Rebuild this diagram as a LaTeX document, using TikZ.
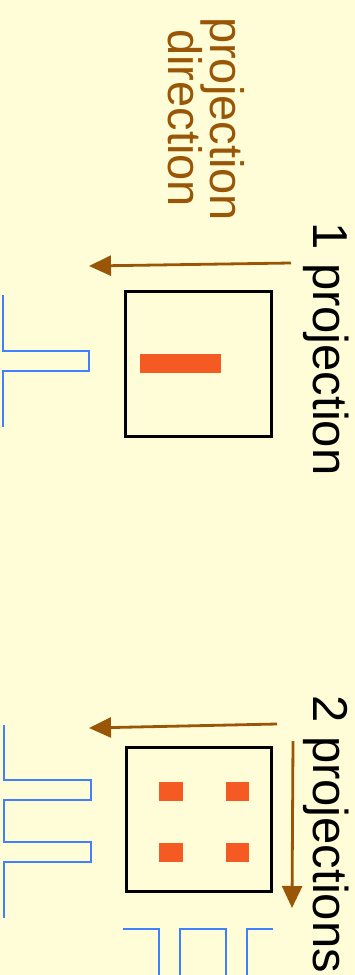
\documentclass[tikz,border=0pt]{standalone}
\usepackage{fontspec}
\setmainfont{Liberation Sans}
\usetikzlibrary{arrows.meta}
\definecolor{bg}{RGB}{254,253,216}
\definecolor{brn}{RGB}{153,86,6}
\definecolor{spot}{RGB}{245,90,34}
\definecolor{prof}{RGB}{64,128,255}
\tikzset{
  sample/.style={draw=black, line width=3.2pt, fill=none, inner sep=0pt},
  projarrow/.style={draw=brn, line width=2.8pt, -{Triangle[length=22pt,width=20pt]}},
  profile/.style={draw=prof, line width=2.5pt},
  label/.style={rotate=-90, inner sep=0pt, font=\fontsize{49}{49}\selectfont},
  dirlabel/.style={rotate=-90, inner sep=0pt, text=brn, font=\fontsize{47}{47}\selectfont},
}
\begin{document}
\begin{tikzpicture}[x=1pt,y=-1pt]
\fill[bg] (0,0) rectangle (355,975);
\useasboundingbox (0,0) rectangle (355,975);

% labels
\node[dirlabel, anchor=base] (pd1) at (210,119) {projection};
\node[dirlabel, anchor=base] (pd2) at (168,118) {direction};
\node[label, anchor=base west] (one) at (313,222) {1 projection};
\node[label, anchor=base west] (two) at (313,695) {2 projections};

% single projection
\node[sample, minimum width=146pt, minimum height=145pt] (box1) at (198.5,364) {};
\fill[spot] (140,354) rectangle (221,373);
\coordinate (a1s) at (291,263);
\coordinate (a1e) at (89,266);
\draw[projarrow] (a1s) -- (a1e);
\draw[profile] (3,295) -- (3,351) -- (89,351) -- (89,371) -- (3,371) -- (3,427);

% two projections
\node[sample, minimum width=145pt, minimum height=144pt] (box2) at (199,819.5) {};
\fill[spot] (159,782) rectangle (183,801);
\fill[spot] (226,782) rectangle (249,801);
\fill[spot] (159,843) rectangle (183,862);
\fill[spot] (226,843) rectangle (249,862);
\coordinate (a2s) at (277,724);
\coordinate (a2e) at (89,728);
\coordinate (a3s) at (293,741);
\coordinate (a3e) at (292,908);
\draw[projarrow] (a2s) -- (a2e);
\draw[projarrow] (a3s) -- (a3e);
\draw[profile] (4,725) -- (4,780) -- (91,780) -- (91,800) -- (4,800) -- (4,842)
  -- (91,842) -- (91,862) -- (4,862) -- (4,918);
\draw[profile] (123,929) -- (159,929) -- (159,976);
\draw[profile] (180,976) -- (180,929) -- (226,929) -- (226,976);
\draw[profile] (247,976) -- (247,929) -- (273,929);
\end{tikzpicture}
\end{document}
